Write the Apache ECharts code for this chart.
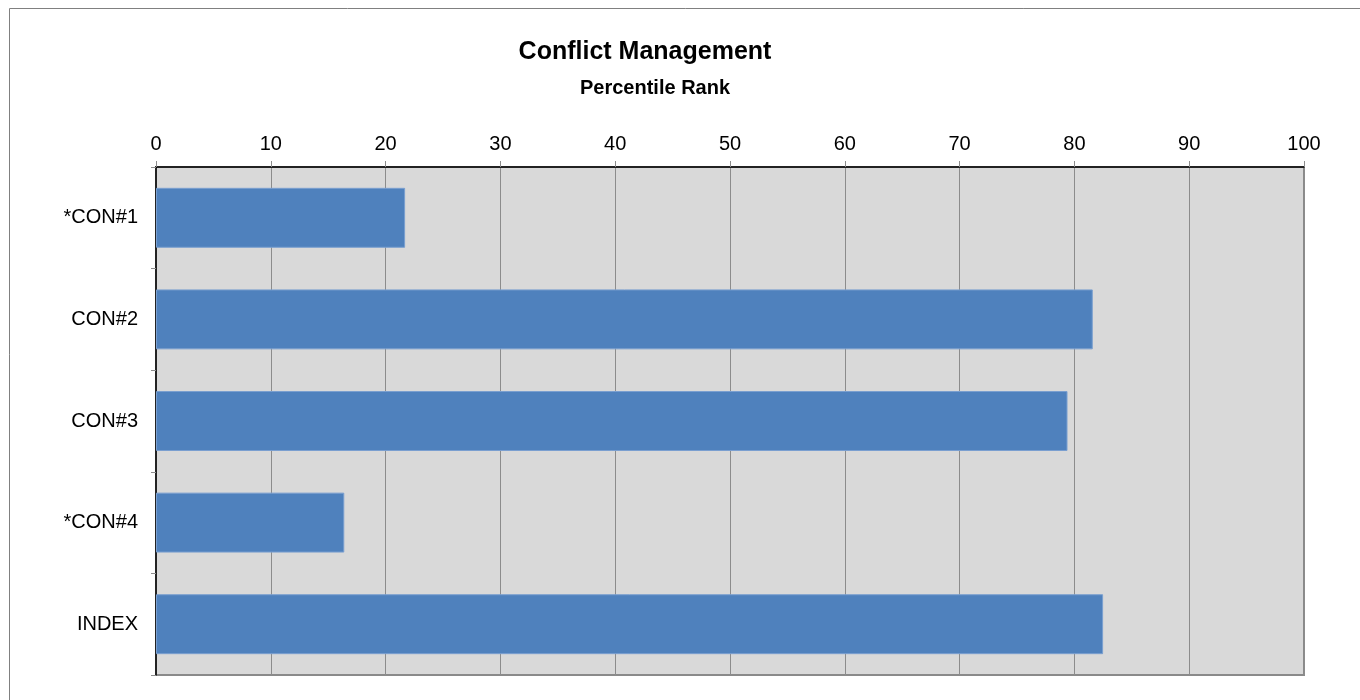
<!DOCTYPE html>
<html>
<head>
<meta charset="UTF-8">
<title>Conflict Management</title>
<script src="https://cdn.jsdelivr.net/npm/echarts@6/dist/echarts.min.js"></script>
<style>
  html, body { margin: 0; padding: 0; background: #fff; }
  #chart { width: 1360px; height: 700px; }
</style>
</head>
<body>
<div id="chart"></div>
<script>
// data
var categories = ['*CON#1', 'CON#2', 'CON#3', '*CON#4', 'INDEX'];
var percentile = [21.7, 81.6, 79.4, 16.4, 82.5];
var xTicks = [0, 10, 20, 30, 40, 50, 60, 70, 80, 90, 100];

var myChart = echarts.init(document.getElementById('chart'));
var font = 'Liberation Sans, Arial, sans-serif';

var option = {
  animation: false,
  graphic: [{
    type: 'rect',
    shape: { x: 9.5, y: 8.5, width: 1400, height: 760 },
    style: { fill: 'none', stroke: '#808080', lineWidth: 1 },
    silent: true
  }],
  title: [{
    text: 'Conflict Management',
    left: 640, top: 35, textAlign: 'center',
    textStyle: { fontFamily: font, fontSize: 25, fontWeight: 'bold', color: '#000' }
  }, {
    text: 'Percentile Rank',
    left: 650, top: 73, textAlign: 'center',
    textStyle: { fontFamily: font, fontSize: 20, fontWeight: 'bold', color: '#000' }
  }],
  grid: {
    left: 156, right: 56, top: 167, bottom: 25,
    show: true,
    backgroundColor: '#d9d9d9',
    borderColor: '#8a8a8a',
    borderWidth: 2
  },
  xAxis: {
    type: 'value',
    position: 'top',
    min: xTicks[0],
    max: xTicks[xTicks.length - 1],
    interval: 10,
    axisLine: { show: true, lineStyle: { color: '#000', width: 1.5 } },
    axisTick: { show: true, length: 6, inside: false, lineStyle: { color: '#8c8c8c' } },
    axisLabel: { fontFamily: font, fontSize: 20, color: '#000', margin: 13 },
    splitLine: { show: true, lineStyle: { color: '#8c8c8c', width: 1 } }
  },
  yAxis: {
    type: 'category',
    inverse: true,
    data: categories,
    axisLine: { show: true, lineStyle: { color: '#000', width: 1.5 } },
    axisTick: { show: true, length: 5, lineStyle: { color: '#8c8c8c' } },
    axisLabel: { fontFamily: font, fontSize: 20, color: '#000', margin: 18 },
    splitLine: { show: false }
  },
  series: [{
    type: 'bar',
    data: percentile,
    barCategoryGap: '41%',
    itemStyle: { color: '#4f81bd', borderColor: '#7a9fd0', borderWidth: 1 }
  }]
};

myChart.setOption(option, true);
</script>
</body>
</html>
